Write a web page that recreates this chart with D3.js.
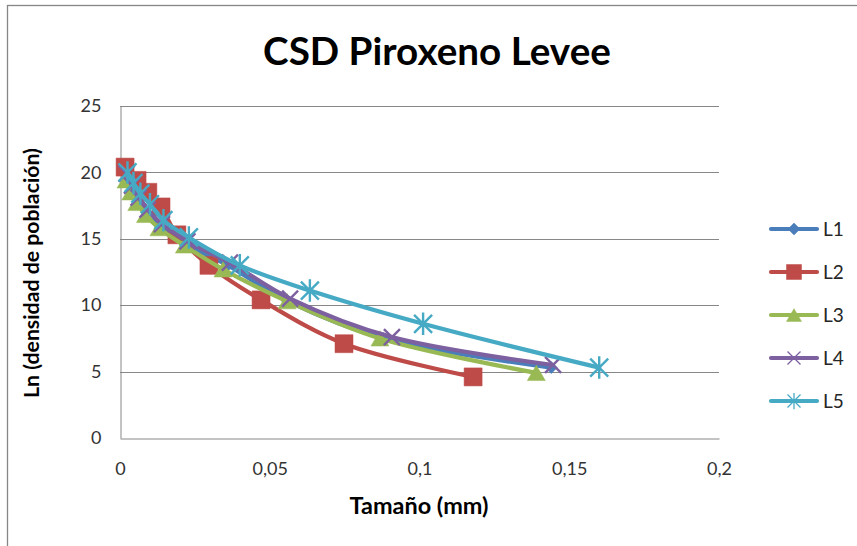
<!DOCTYPE html>
<html>
<head>
<meta charset="utf-8">
<script src="https://cdn.jsdelivr.net/npm/d3@7"></script>
<style>
  html, body { margin: 0; padding: 0; background: #fff; }
  svg { display: block; }
  text { font-family: Lato, "Open Sans", sans-serif; }
</style>
</head>
<body>
<svg id="chart" width="857" height="546"></svg>
<script>
// Tamaño (mm) and Ln(densidad de población) per series
const seriesNames = ["L1", "L2", "L3", "L4", "L5"];
const seriesColors = ["#4A7EBB", "#BE4B48", "#98B954", "#7D60A0", "#46AAC5"];

const L1x = [0.0021, 0.0039, 0.0060, 0.0089, 0.0136, 0.0218, 0.0360, 0.0560, 0.0880, 0.1440];
const L1y = [19.8, 18.9, 18.0, 17.0, 15.9, 14.6, 13.0, 10.3, 7.5, 5.3];

const L2x = [0.0017, 0.0057, 0.0093, 0.0137, 0.0190, 0.0297, 0.0471, 0.0748, 0.1179];
const L2y = [20.4, 19.4, 18.5, 17.4, 15.3, 13.0, 10.4, 7.1, 4.6];

const L3x = [0.0020, 0.0036, 0.0056, 0.0085, 0.0130, 0.0215, 0.0344, 0.0558, 0.0868, 0.1390];
const L3y = [19.4, 18.5, 17.7, 16.8, 15.8, 14.5, 12.7, 10.3, 7.5, 4.9];

const L4x = [0.0022, 0.0040, 0.0062, 0.0092, 0.0140, 0.0225, 0.0367, 0.0568, 0.0908, 0.1446];
const L4y = [19.9, 19.0, 18.1, 17.2, 16.1, 14.8, 13.2, 10.5, 7.6, 5.5];

const L5x = [0.0025, 0.0045, 0.0068, 0.0100, 0.0145, 0.0230, 0.0400, 0.0634, 0.1012, 0.1600];
const L5y = [20.0, 19.2, 18.4, 17.6, 16.4, 15.1, 13.0, 11.1, 8.6, 5.3];

const xTicks = [0, 0.05, 0.1, 0.15, 0.2];
const xTickLabels = ["0", "0,05", "0,1", "0,15", "0,2"];
const yTicks = [0, 5, 10, 15, 20, 25];
const yTickLabels = ["0", "5", "10", "15", "20", "25"];

const titleText = "CSD Piroxeno Levee";
const xTitle = "Tamaño (mm)";
const yTitle = "Ln (densidad de población)";

const seriesX = [L1x, L2x, L3x, L4x, L5x];
const seriesY = [L1y, L2y, L3y, L4y, L5y];
const series = seriesNames.map((name, i) => ({
  name, color: seriesColors[i],
  points: seriesX[i].map((x, j) => ({ x, y: seriesY[i][j] }))
}));

const svg = d3.select("#chart");

// outer chart border
svg.append("rect")
  .attr("x", 7.5).attr("y", 5.5).attr("width", 900).attr("height", 600)
  .attr("fill", "#fff").attr("stroke", "#868686").attr("stroke-width", 1.3);

const plot = { left: 120, right: 719, top: 106, bottom: 438 };
const x = d3.scaleLinear().domain([0, 0.2]).range([plot.left, plot.right]);
const y = d3.scaleLinear().domain([0, 25]).range([plot.bottom, plot.top]);

// horizontal gridlines
svg.append("g")
  .selectAll("line")
  .data(yTicks.filter(t => t > 0))
  .join("line")
  .attr("x1", plot.left).attr("x2", plot.right)
  .attr("y1", d => Math.round(y(d)) + 0.5).attr("y2", d => Math.round(y(d)) + 0.5)
  .attr("stroke", "#878787").attr("stroke-width", 1);

// axes
const xAxis = d3.axisBottom(x).tickValues(xTicks)
  .tickFormat((d, i) => xTickLabels[i]).tickSize(0).tickPadding(24);
const yAxis = d3.axisLeft(y).tickValues(yTicks)
  .tickFormat((d, i) => yTickLabels[i]).tickSize(0).tickPadding(19);

const gx = svg.append("g").attr("transform", `translate(0,${plot.bottom + 0.5})`).call(xAxis);
const gy = svg.append("g").attr("transform", `translate(${plot.left + 0.5},0)`).call(yAxis);
[gx, gy].forEach(g => {
  g.select(".domain").attr("stroke", "#878787").attr("stroke-width", 1);
  g.selectAll("text").attr("font-family", "Lato, sans-serif")
    .attr("font-size", 18).attr("fill", "#333");
});

// marker shapes
function markerPath(kind, s) {
  const h = s / 2;
  switch (kind) {
    case "diamond": return `M0,${-h}L${h},0L0,${h}L${-h},0Z`;
    case "square": return `M${-h},${-h}H${h}V${h}H${-h}Z`;
    case "triangle": return `M0,${-h * 0.85}L${h},${h * 0.85}L${-h},${h * 0.85}Z`;
    case "x": return `M${-h},${-h}L${h},${h}M${-h},${h}L${h},${-h}`;
    case "star": return `M${-h},${-h}L${h},${h}M${-h},${h}L${h},${-h}M0,${-h * 1.25}V${h * 1.25}`;
  }
}
const markerKinds = ["diamond", "square", "triangle", "x", "star"];
const markerSizes = [12, 18, 18, 16, 18];

const line = d3.line().x(d => x(d.x)).y(d => y(d.y)).curve(d3.curveCatmullRom.alpha(0.5));

series.forEach((s, i) => {
  const g = svg.append("g");
  g.append("path").datum(s.points)
    .attr("d", line).attr("fill", "none")
    .attr("stroke", s.color).attr("stroke-width", 4.2)
    .attr("stroke-linejoin", "round").attr("stroke-linecap", "round");
  const kind = markerKinds[i];
  const stroked = kind === "x" || kind === "star";
  g.selectAll("path.m").data(s.points).join("path")
    .attr("class", "m")
    .attr("transform", d => `translate(${x(d.x)},${y(d.y)})`)
    .attr("d", markerPath(kind, markerSizes[i]))
    .attr("fill", stroked ? "none" : s.color)
    .attr("stroke", s.color)
    .attr("stroke-width", stroked ? 2.4 : 0.5);
});

// legend
const legend = svg.append("g");
const legendY = d3.scalePoint().domain(seriesNames).range([229, 401]);
series.forEach((s, i) => {
  const ly = legendY(s.name);
  legend.append("line")
    .attr("x1", 771).attr("x2", 817).attr("y1", ly).attr("y2", ly)
    .attr("stroke", s.color).attr("stroke-width", 4.2).attr("stroke-linecap", "round");
  const kind = markerKinds[i];
  const stroked = kind === "x" || kind === "star";
  legend.append("path")
    .attr("transform", `translate(794,${ly})`)
    .attr("d", markerPath(kind, [12, 15, 15, 13, 13][i]))
    .attr("fill", stroked ? "none" : s.color)
    .attr("stroke", s.color).attr("stroke-width", stroked ? 1.3 : 0.5);
  legend.append("text")
    .attr("x", 823).attr("y", ly).attr("dy", "0.35em")
    .attr("font-size", 19).attr("fill", "#262626").text(s.name);
});

// fit text to a target width
function fitWidth(sel, target) {
  const w = sel.node().getComputedTextLength();
  const fs = parseFloat(sel.attr("font-size"));
  sel.attr("font-size", fs * target / w);
}

const title = svg.append("text")
  .attr("x", 437).attr("y", 65).attr("text-anchor", "middle")
  .attr("font-size", 32).attr("font-weight", "bold").attr("fill", "#000")
  .text(titleText);
fitWidth(title, 348);

const xt = svg.append("text")
  .attr("x", 419).attr("y", 514).attr("text-anchor", "middle")
  .attr("font-size", 18).attr("font-weight", "bold").attr("fill", "#000")
  .text(xTitle);
fitWidth(xt, 139);

const yt = svg.append("text")
  .attr("transform", "translate(39,273) rotate(-90)")
  .attr("text-anchor", "middle")
  .attr("font-size", 18).attr("font-weight", "bold").attr("fill", "#000")
  .text(yTitle);
fitWidth(yt, 250);
</script>
</body>
</html>
